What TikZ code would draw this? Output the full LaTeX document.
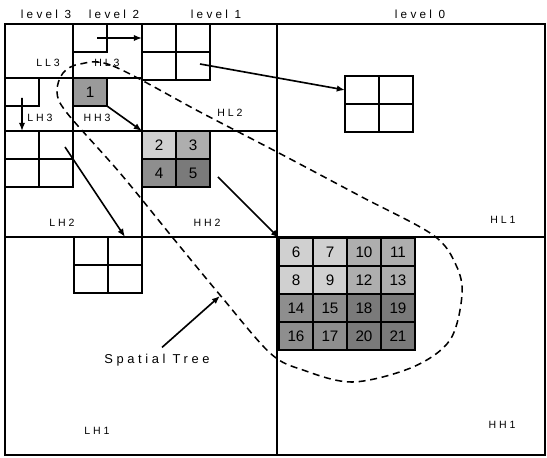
\documentclass[tikz,border=0pt]{standalone}
\usepackage{fontspec}
\setmainfont{Liberation Sans}
\newfontfamily\lblfont[LetterSpace=28]{Liberation Sans}
\usetikzlibrary{arrows.meta,positioning}
\definecolor{grayA}{HTML}{D0D0D0}
\definecolor{grayB}{HTML}{AEAEAE}
\definecolor{grayC}{HTML}{8E8E8E}
\definecolor{grayD}{HTML}{7A7A7A}
\definecolor{grayE}{HTML}{9A9A9A}

\begin{document}
\begin{tikzpicture}[x=0.03cm, y=-0.03cm, >={Latex[length=7pt,width=5.5pt]},
    frame/.style={draw, line width=1.5pt},
    cell/.style={draw, line width=1.5pt, minimum width=1.02cm, minimum height=0.84cm, inner sep=0pt, outer sep=0pt, anchor=north west},
    numcell/.style={cell, font=\fontsize{13}{13}\selectfont},
    band/.style={font=\lblfont\fontsize{9}{10}\selectfont},
    head/.style={font=\lblfont\fontsize{10}{12}\selectfont},
    arr/.style={->, line width=1.4pt}]
    \useasboundingbox (0,0) rectangle (547,458);

    % Level headers
    \node[head] (lev3) at (46,14) {level 3};
    \node[head] (lev2) at (114,14) {level 2};
    \node[head] (lev1) at (216,14) {level 1};
    \node[head] (lev0) at (420,14) {level 0};

    % Subband partition
    \draw[frame] (5,24) rectangle (545,455);
    \draw[frame] (277,24) -- (277,455);
    \draw[frame] (5,237) -- (545,237);
    \draw[frame] (142,24) -- (142,237);
    \draw[frame] (5,131) -- (277,131);
    \draw[frame] (73,24) -- (73,131);
    \draw[frame] (5,78) -- (142,78);

    % Subband labels
    \node[band] (ll3) at (48,63) {LL3};
    \node[band] (hl3) at (107,63) {HL3};
    \node[band] (lh3) at (40,118) {LH3};
    \node[band] (hh3) at (97,118) {HH3};
    \node[band] (hl2) at (230,113) {HL2};
    \node[band] (lh2) at (62,223) {LH2};
    \node[band] (hh2) at (207,223) {HH2};
    \node[band] (hl1) at (503,220) {HL1};
    \node[band] (lh1) at (97,431) {LH1};
    \node[band] (hh1) at (502,425) {HH1};

    % Level 3 coefficients
    \node[cell] (hl3a) at (73,24) {};
    \node[cell] (lh3a) at (5,78) {};
    \node[numcell, fill=grayE] (one) at (73,78) {1};

    % Level 2 children
    \node[cell] (hl2a) at (142,24) {};
    \node[cell, right=0pt of hl2a] (hl2b) {};
    \node[cell, below=0pt of hl2a] (hl2c) {};
    \node[cell, right=0pt of hl2c] (hl2d) {};

    \node[cell] (lh2a) at (5,131) {};
    \node[cell, right=0pt of lh2a] (lh2b) {};
    \node[cell, below=0pt of lh2a] (lh2c) {};
    \node[cell, right=0pt of lh2c] (lh2d) {};

    \node[numcell, fill=grayA] (c2) at (142,131) {2};
    \node[numcell, fill=grayB, right=0pt of c2] (c3) {3};
    \node[numcell, fill=grayC, below=0pt of c2] (c4) {4};
    \node[numcell, fill=grayD, right=0pt of c4] (c5) {5};

    % Level 1 children
    \node[cell] (hl1a) at (345,76) {};
    \node[cell, right=0pt of hl1a] (hl1b) {};
    \node[cell, below=0pt of hl1a] (hl1c) {};
    \node[cell, right=0pt of hl1c] (hl1d) {};

    \node[cell] (lh1a) at (74,237) {};
    \node[cell, right=0pt of lh1a] (lh1b) {};
    \node[cell, below=0pt of lh1a] (lh1c) {};
    \node[cell, right=0pt of lh1c] (lh1d) {};

    \foreach \n/\c [count=\i from 0] in {6/grayA,7/grayA,10/grayB,11/grayB,
        8/grayA,9/grayA,12/grayB,13/grayB,
        14/grayC,15/grayC,18/grayD,19/grayD,
        16/grayC,17/grayC,20/grayD,21/grayD}
      \node[numcell, fill=\c] (c\n) at ({279+mod(\i,4)*34},{238+int(\i/4)*28}) {\n};

    % Parent-child arrows
    \coordinate (hl3s) at (97,38);
    \coordinate (lh3s) at (22,98);
    \coordinate (hl2s) at (200,64);
    \coordinate (lh2s) at (65,147);
    \coordinate (hh2s) at (218,177);
    \draw[arr] (hl3s) -- (hl2a.west);
    \draw[arr] (lh3s) -- (lh2a.north);
    \draw[arr] (one.south east) -- (c2.north west);
    \draw[arr] (hl2s) -- (hl1a.west);
    \draw[arr] (lh2s) -- (lh1b.north);
    \draw[arr] (hh2s) -- (c6.north west);

    % Spatial tree outline
    \draw[line width=1.3pt, dash pattern=on 6pt off 4pt] plot[smooth cycle, tension=0.55] coordinates {
      (80,64) (113,66) (200,112) (277,152) (360,196) (433,235) (456,265) (462,295)
      (450,340) (413,367) (353,382) (303,370) (270,353) (220,295) (173,238)
      (120,173) (67,113) (57,92) (63,73)};

    \coordinate (tip) at (220,296);
    \node[font=\lblfont\fontsize{11}{13}\selectfont, inner sep=2pt] (spatial) at (157,360) {Spatial Tree};
    \draw[arr] ([shift={(5,-4)}]spatial.north) -- (tip);
\end{tikzpicture}
\end{document}
